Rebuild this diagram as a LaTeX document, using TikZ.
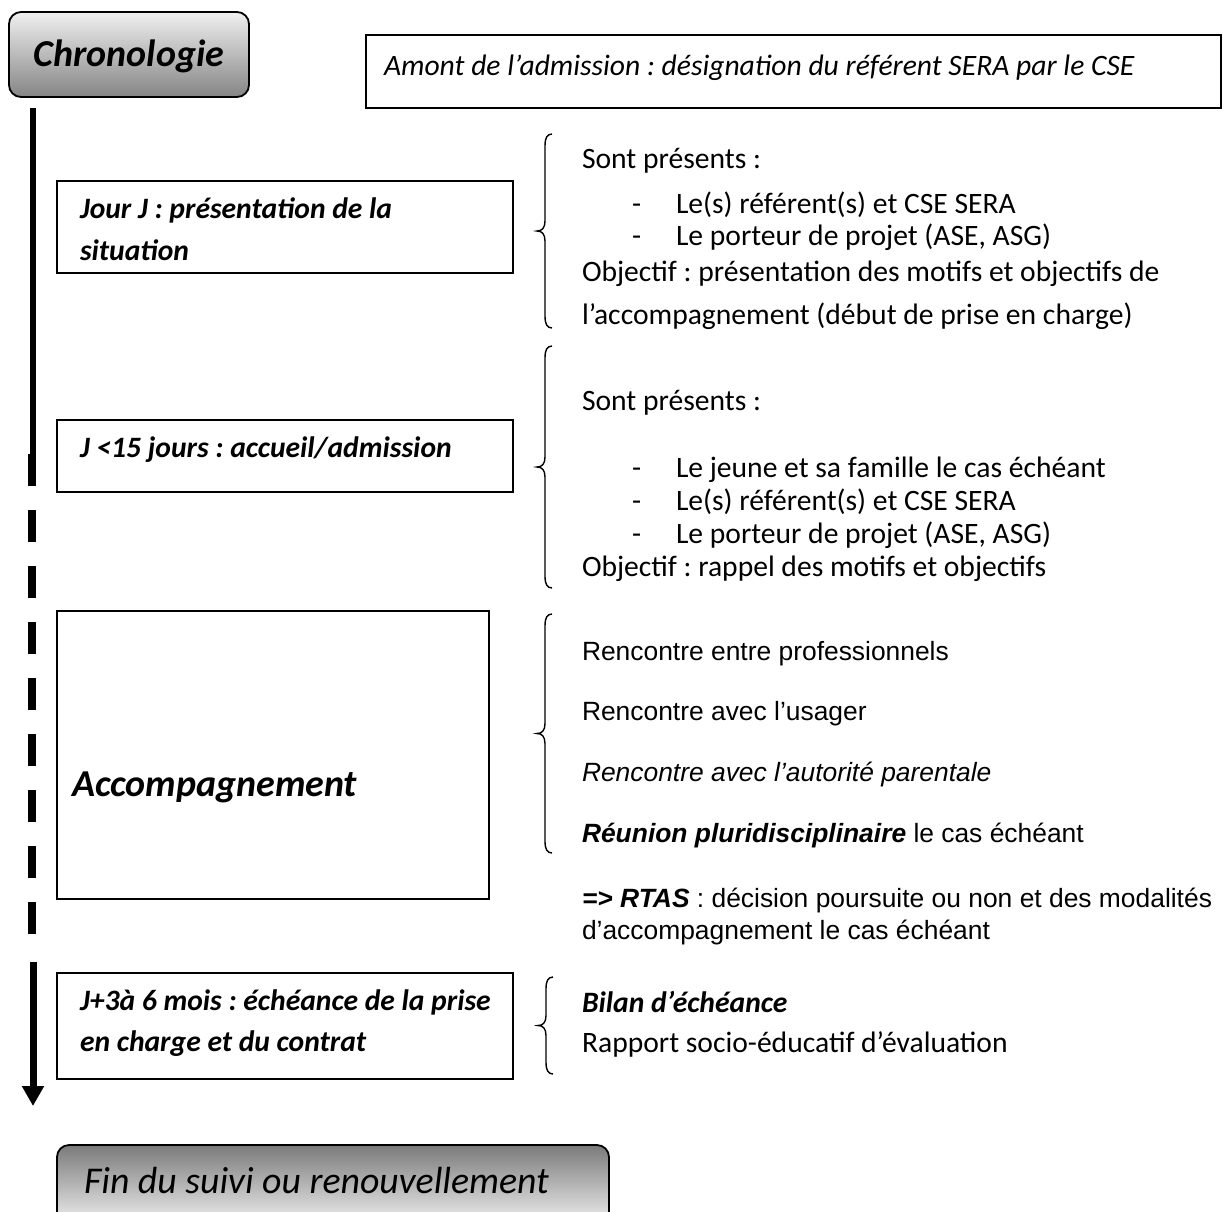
\documentclass[tikz,border=0pt]{standalone}
\usepackage{fontspec}
\setmainfont{Carlito}
\newfontfamily\arialfont{Liberation Sans}
\usetikzlibrary{arrows.meta}
\frenchspacing
\newcommand\curlybrace[3]{% x, top, bottom
  \draw[bracepen] (#1+15,#2) .. controls (#1+10,#2) and (#1+8,#2+4) .. (#1+8,#2+12)
    -- (#1+8,{(#2+#3)/2-10}) .. controls (#1+8,{(#2+#3)/2-3}) and (#1+5,{(#2+#3)/2}) .. (#1,{(#2+#3)/2})
    .. controls (#1+5,{(#2+#3)/2}) and (#1+8,{(#2+#3)/2+3}) .. (#1+8,{(#2+#3)/2+10})
    -- (#1+8,#3-12) .. controls (#1+8,#3-4) and (#1+10,#3) .. (#1+15,#3);}
\begin{document}
\begin{tikzpicture}[x=1pt,y=-1pt,
  every node/.style={inner sep=0pt,outer sep=0pt},
  body/.style={anchor=base west,font=\fontsize{29.6pt}{32pt}\selectfont},
  arialtxt/.style={anchor=base west,font=\arialfont\fontsize{26.4pt}{30pt}\selectfont},
  boxtxt/.style={anchor=base west,font=\fontsize{29.6pt}{32pt}\selectfont\bfseries\itshape},
  frame/.style={draw,line width=1.8pt,anchor=north west},
  gradbox/.style={draw,line width=1.8pt,rounded corners=12pt,anchor=north west},
  bracepen/.style={draw,line width=1.4pt},
]
\useasboundingbox (0,0) rectangle (1223,1211);
\clip (0,0) rectangle (1223,1211);
\fill[white] (0,0) rectangle (1223,1211);

% header boxes
\node[gradbox,minimum width=240pt,minimum height=85pt,top color=black!6,bottom color=black!48] (chrono) at (9,12) {};
\node[font=\fontsize{38pt}{40pt}\selectfont\bfseries\itshape] (chronotxt) at ([yshift=-2pt]chrono.center) {Chronologie};

\node[frame,minimum width=855pt,minimum height=73pt] (amont) at (366,35) {};
\node[body,font=\fontsize{29.6pt}{32pt}\selectfont\itshape] (amonttxt) at (384,75) {Amont de l’admission : désignation du référent SERA par le CSE};

% timeline
\coordinate (t1) at (33,108);
\coordinate (t2) at (33,468);
\coordinate (d1) at (32,454);
\coordinate (d2) at (32,936);
\coordinate (a1) at (33,962);
\coordinate (a2) at (33,1106);
\draw[line width=5.5pt] (t1) -- (t2);
\draw[line width=8pt,dash pattern=on 32pt off 24pt] (d1) -- (d2);
\draw[line width=7pt,-{Triangle[width=21pt,length=20pt]}] (a1) -- (a2);

% Jour J
\node[frame,minimum width=456pt,minimum height=92pt] (jourj) at (57,181) {};
\node[boxtxt] (jourj1) at (80,218) {Jour J : présentation de la};
\node[boxtxt] (jourj2) at (80,260) {situation};
\curlybrace{537}{134}{328}
\node[body] (b1a) at (582,168) {Sont présents :};
\node[body] (b1b) at (632,213) {-};
\node[body] (b1c) at (676,213) {Le(s) référent(s) et CSE SERA};
\node[body] (b1d) at (632,245) {-};
\node[body] (b1e) at (676,245) {Le porteur de projet (ASE, ASG)};
\node[body] (b1f) at (582,281) {Objectif : présentation des motifs et objectifs de};
\node[body] (b1g) at (582,324) {l’accompagnement (début de prise en charge)};

% J<15
\node[frame,minimum width=456pt,minimum height=72pt] (j15) at (57,420) {};
\node[boxtxt] (j15t) at (80,457) {J <15 jours : accueil/admission};
\curlybrace{537}{346}{588}
\node[body] (b2a) at (582,410) {Sont présents :};
\node[body] (b2b) at (632,477) {-};
\node[body] (b2c) at (676,477) {Le jeune et sa famille le cas échéant};
\node[body] (b2d) at (632,510) {-};
\node[body] (b2e) at (676,510) {Le(s) référent(s) et CSE SERA};
\node[body] (b2f) at (632,543) {-};
\node[body] (b2g) at (676,543) {Le porteur de projet (ASE, ASG)};
\node[body] (b2h) at (582,576) {Objectif : rappel des motifs et objectifs};

% Accompagnement
\node[frame,minimum width=432pt,minimum height=288pt] (acc) at (57,611) {};
\node[anchor=base west,font=\fontsize{38pt}{40pt}\selectfont\bfseries\itshape] (acctxt) at (72,796) {Accompagnement};
\curlybrace{537}{614}{853}
\node[arialtxt] (b3a) at (582,660) {Rencontre entre professionnels};
\node[arialtxt] (b3b) at (582,720) {Rencontre avec l’usager};
\node[arialtxt,font=\arialfont\fontsize{26.4pt}{30pt}\selectfont\itshape] (b3c) at (582,781) {Rencontre avec l’autorité parentale};
\node[arialtxt] (b3d) at (582,842) {\textbf{\textit{Réunion pluridisciplinaire}} le cas échéant};
\node[arialtxt] (b3e) at (582,907) {\textbf{\textit{=> RTAS}} : décision poursuite ou non et des modalités};
\node[arialtxt] (b3f) at (582,939) {d’accompagnement le cas échéant};

% J+3
\node[frame,minimum width=456pt,minimum height=106pt] (j3) at (57,973) {};
\node[boxtxt] (j3a) at (80,1010) {J+3à 6 mois : échéance de la prise};
\node[boxtxt] (j3b) at (80,1051) {en charge et du contrat};
\curlybrace{538}{977}{1074}
\node[body,font=\fontsize{29.6pt}{32pt}\selectfont\bfseries\itshape] (b4a) at (582,1012) {Bilan d’échéance};
\node[body] (b4b) at (582,1052) {Rapport socio-éducatif d’évaluation};

% Fin
\node[gradbox,minimum width=552pt,minimum height=90pt,top color=black!52,bottom color=white] (fin) at (57,1145) {};
\node[anchor=base west,font=\fontsize{37.8pt}{40pt}\selectfont\itshape] (fintxt) at (84,1193) {Fin du suivi ou renouvellement};
\end{tikzpicture}
\end{document}
